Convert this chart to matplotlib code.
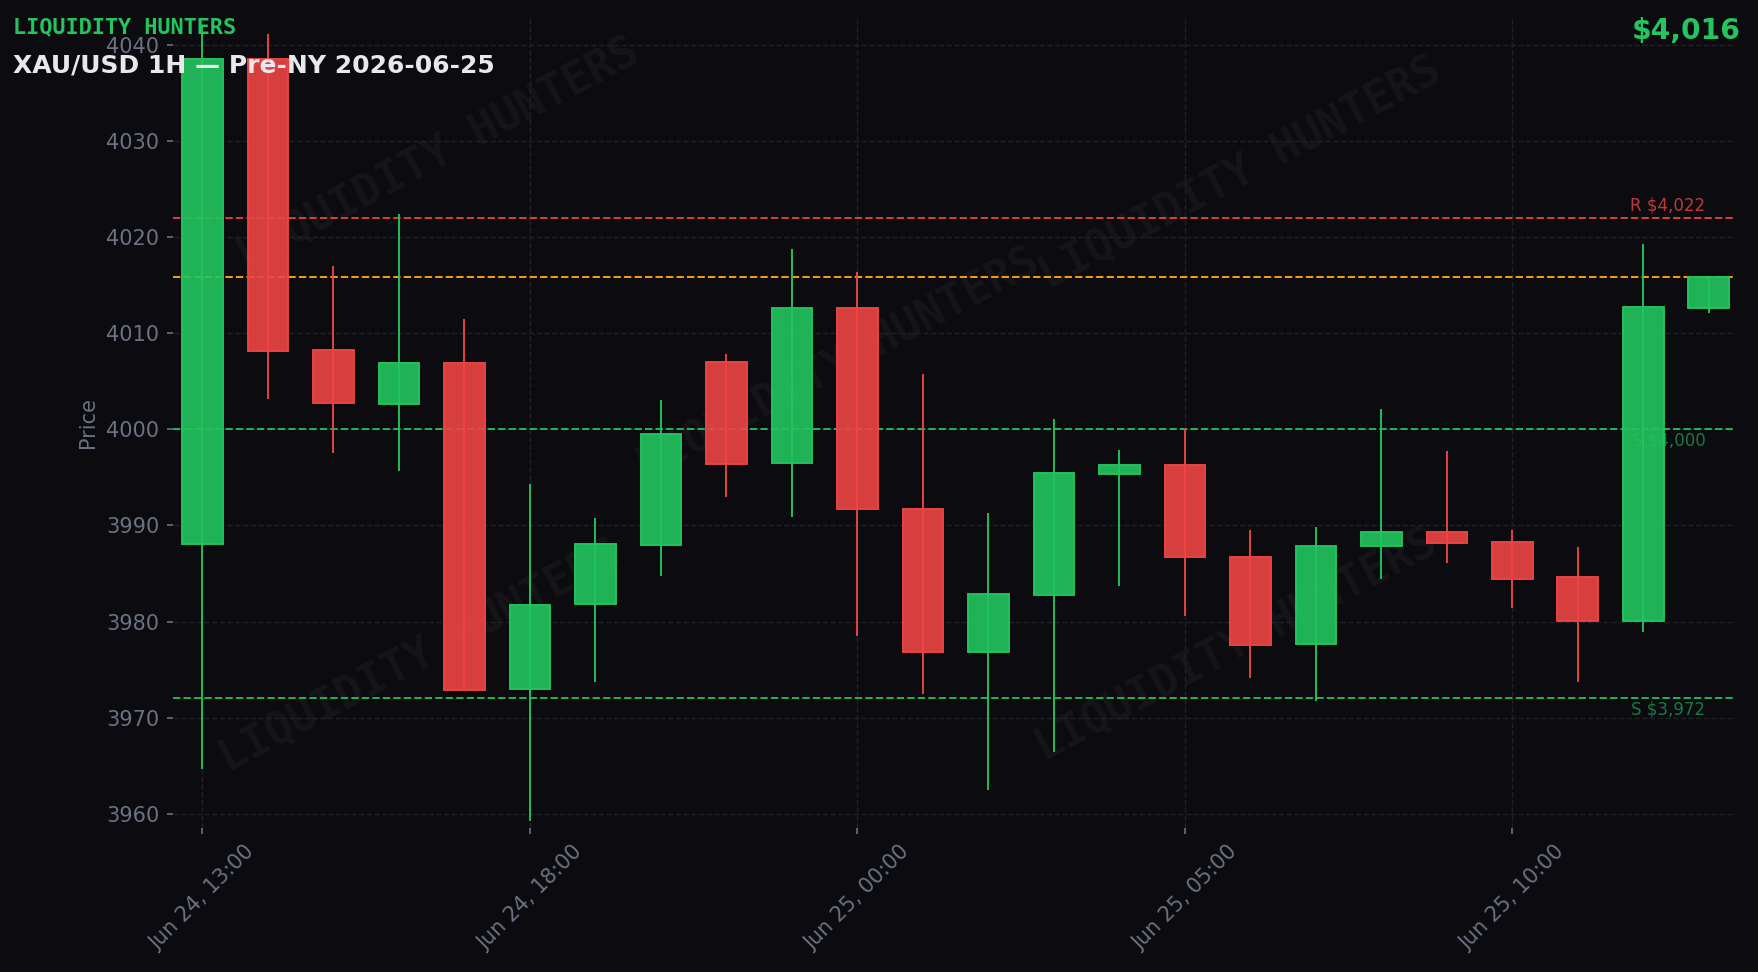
import matplotlib
matplotlib.use("Agg")
import matplotlib.pyplot as plt
from matplotlib.colors import to_rgba
import numpy as np

# hourly XAU/USD candles, Jun 24 13:00 -> Jun 25 12:00
opens = [3988.1, 4038.5, 4008.3, 4002.6, 4006.9, 3973.0, 3981.8, 3988.0,
         4007.0, 3996.5, 4012.6, 3991.7, 3976.8, 3982.8, 3995.4, 3996.3,
         3986.7, 3977.7, 3987.9, 3989.3, 3988.3, 3984.6, 3980.1, 4012.6]
highs = [4042.0, 4041.1, 4017.0, 4022.4, 4011.5, 3994.3, 3990.8, 4003.0,
         4007.8, 4018.8, 4016.4, 4005.8, 3991.3, 4001.1, 3997.8, 4000.1,
         3989.5, 3989.8, 4002.1, 3997.7, 3989.5, 3987.8, 4019.3, 4015.8]
lows = [3964.7, 4003.2, 3997.5, 3995.7, 3972.8, 3959.2, 3973.7, 3984.7,
        3993.0, 3990.9, 3978.5, 3972.5, 3962.5, 3966.4, 3983.7, 3980.6,
        3974.1, 3971.7, 3984.4, 3986.1, 3981.4, 3973.7, 3978.9, 4012.1]
closes = [4038.5, 4008.1, 4002.7, 4006.9, 3972.9, 3981.7, 3988.1, 3999.5,
          3996.4, 4012.6, 3991.7, 3976.8, 3982.9, 3995.5, 3996.3, 3986.7,
          3977.6, 3987.9, 3989.3, 3988.2, 3984.4, 3980.1, 4012.7, 4015.8]

tick_pos = [0, 5, 10, 15, 20]
tick_labels = ["Jun 24, 13:00", "Jun 24, 18:00", "Jun 25, 00:00",
               "Jun 25, 05:00", "Jun 25, 10:00"]

resistance = [4022]
supports = [4000, 3972]
last_price = closes[-1]

BG = "#0b0b10"
GREEN = "#22c55e"
RED = "#ef4444"
ORANGE = "#f59e0b"
GRAY = "#6b7280"

fig = plt.figure(figsize=(11.72, 6.48), dpi=150, facecolor=BG)
ax = fig.add_axes([0.0984, 0.148, 0.8885, 0.8355])
ax.set_facecolor(BG)

x = np.arange(len(opens))
o = np.array(opens)
c = np.array(closes)
up = c >= o
cols = [GREEN if u else RED for u in up]

# wicks then bodies
ax.vlines(x, lows, highs, colors=cols, linewidth=0.9, zorder=2)
bottoms = np.minimum(o, c)
heights = np.abs(c - o)
ax.bar(x, heights, bottom=bottoms, width=0.62,
       color=[to_rgba(cc, 0.9) for cc in cols], edgecolor=cols,
       linewidth=0.9, zorder=3)

# levels
for r in resistance:
    ax.axhline(r, color=RED, linestyle="--", linewidth=0.95, alpha=0.9, zorder=1)
    ax.text(len(opens) - 1.05, r + 0.3, f"R ${r:,.0f}", color=RED, alpha=0.8,
            fontsize=8, ha="right", va="bottom", zorder=4)
for s in supports:
    ax.axhline(s, color=GREEN, linestyle="--", linewidth=0.95, alpha=0.9, zorder=1)
    ax.text(len(opens) - 1.05, s - 0.2, f"S ${s:,.0f}", color=GREEN, alpha=0.6,
            fontsize=8, ha="right", va="top", zorder=4)
ax.axhline(last_price, color=ORANGE, linestyle="--", linewidth=0.95, zorder=1)

# watermark
for wx, wy in [(0.17, 0.83), (0.683, 0.806), (0.426, 0.571),
               (0.158, 0.212), (0.681, 0.225)]:
    ax.text(wx, wy, "LIQUIDITY HUNTERS", transform=ax.transAxes,
            fontsize=21, fontweight="bold", family="DejaVu Sans Mono",
            color="white", alpha=0.045, rotation=28,
            ha="center", va="center", zorder=0)

ax.set_xlim(-0.45, 23.4)
ax.set_ylim(3958.5, 4043)
ax.set_yticks(np.arange(3960, 4041, 10))
ax.set_xticks(tick_pos)
ax.set_xticklabels(tick_labels, rotation=45)
ax.tick_params(colors=GRAY, labelsize=10, length=3)
ax.set_ylabel("Price", color=GRAY, fontsize=10)
ax.grid(True, color="#1f2029", linestyle="--", linewidth=0.7)
ax.set_axisbelow(True)
for sp in ax.spines.values():
    sp.set_visible(False)

fig.text(0.0074, 0.9654, "LIQUIDITY HUNTERS", color=GREEN, fontsize=10.5,
         fontweight="bold", family="DejaVu Sans Mono", va="baseline")
fig.text(0.0074, 0.925, "XAU/USD 1H \u2014 Pre-NY 2026-06-25", color="#e8e8ec",
         fontsize=12, fontweight="bold", va="baseline")
fig.text(0.9904, 0.9599, f"${last_price:,.0f}", color=GREEN, fontsize=13.5,
         fontweight="bold", ha="right", va="baseline")

fig.savefig("out.png", dpi=150, facecolor=BG)
